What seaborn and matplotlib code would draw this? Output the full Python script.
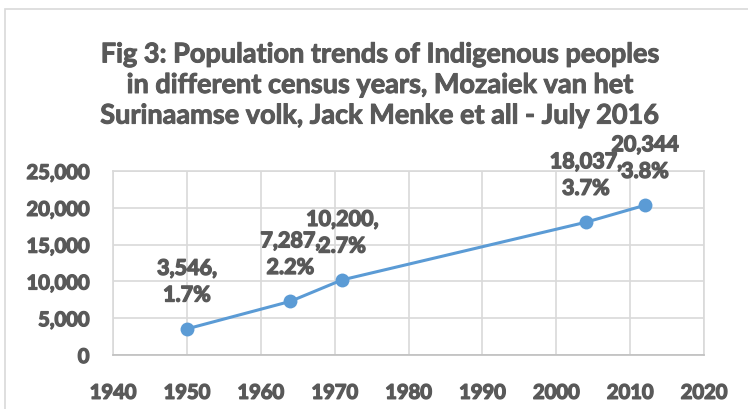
import numpy as np
import pandas as pd
import matplotlib.pyplot as plt
import matplotlib.patheffects as pe
import seaborn as sns
from matplotlib.patches import Rectangle

years = [1950, 1964, 1971, 2004, 2012]
population = [3546, 7287, 10200, 18037, 20344]
growth = ["1.7%", "2.2%", "2.7%", "3.7%", "3.8%"]
point_labels = ["3,546,\n1.7%", "7,287,\n2.2%", "10,200,\n2.7%", "18,037,\n3.7%", "20,344\n3.8%"]
x_ticks = [1940, 1950, 1960, 1970, 1980, 1990, 2000, 2010, 2020]
y_ticks = [0, 5000, 10000, 15000, 20000, 25000]
title = ("Fig 3: Population trends of Indigenous peoples\n"
         "in different census years, Mozaiek van het\n"
         "Surinaamse volk, Jack Menke et all - July 2016")

df = pd.DataFrame({"Year": years, "Population": population})

sns.set_theme(style="white")
plt.rcParams["font.family"] = ["Lato", "DejaVu Sans"]
plt.rcParams["font.weight"] = "bold"

grey = "#595959"
blue = "#5B9BD5"
grid = "#d9d9d9"
# thicken strokes a little so the text reads as heavy as the reference
thick = [pe.withStroke(linewidth=1.0, foreground=grey)]

fig = plt.figure(figsize=(7.48, 4.10), dpi=100)
ax = fig.add_axes([113 / 748, 54 / 410, 591 / 748, 184 / 410])

# outer chart border (cut off at right and bottom like the reference)
fig.patches.append(Rectangle((5 / 748, -0.1), 1.2, 1.1 - 10 / 410,
                             transform=fig.transFigure, fill=False,
                             edgecolor=grid, linewidth=1.2))

sns.lineplot(data=df, x="Year", y="Population", ax=ax, color=blue,
             linewidth=2.2, marker="o", markersize=10, markeredgewidth=0)

for x, y, lab in zip(years, population, point_labels):
    ax.annotate(lab, (x, y), xytext=(0, 34), textcoords="offset points",
                ha="center", va="center", fontsize=15.5, fontweight="bold",
                color=grey, linespacing=1.33, path_effects=thick)

ax.set_xlim(1940, 2020)
ax.set_ylim(0, 25000)
ax.set_xticks(x_ticks)
ax.set_yticks(y_ticks)
ax.set_yticklabels([f"{v:,}" for v in y_ticks])
ax.tick_params(axis="both", length=0, labelsize=14.5, labelcolor=grey)
ax.tick_params(axis="x", pad=20)
ax.tick_params(axis="y", pad=17)
for t in ax.xaxis.get_major_ticks() + ax.yaxis.get_major_ticks():
    t.label1.set_fontweight("bold")
    t.label1.set_path_effects(thick)
ax.set_xlabel("")
ax.set_ylabel("")
ax.grid(True, color=grid, linewidth=1.2)
for side in ["left", "top", "right"]:
    ax.spines[side].set_color(grid)
    ax.spines[side].set_linewidth(1.2)
ax.spines["bottom"].set_color("#bfbfbf")
ax.spines["bottom"].set_linewidth(1.2)

fig.text(380 / 748, 1 - 86 / 410, title, ha="center", va="center",
         fontsize=19.5, fontweight="bold", color=grey, linespacing=1.33,
         path_effects=[pe.withStroke(linewidth=0.7, foreground=grey)])

fig.savefig("out.png", dpi=100)
